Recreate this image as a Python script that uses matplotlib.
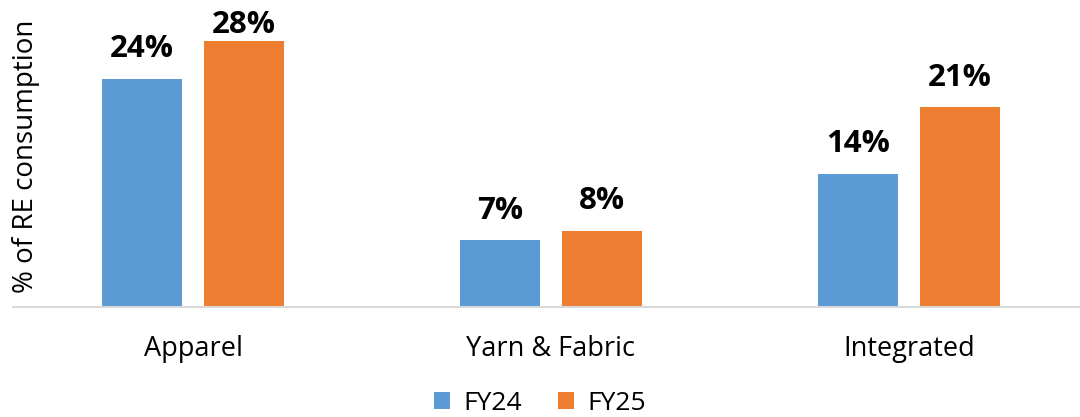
import matplotlib.pyplot as plt
import numpy as np

plt.rcParams['font.family'] = ['Open Sans', 'DejaVu Sans']

categories = ['Apparel', 'Yarn & Fabric', 'Integrated']
fy24 = [24, 7, 14]
fy25 = [28, 8, 21]
series_names = ['FY24', 'FY25']
colors = ['#5b9bd5', '#ed7d31']

fig = plt.figure(figsize=(10.8, 4.17), dpi=100)
ax = fig.add_axes([13 / 1080, 1 - 307 / 417, 1 - 13 / 1080, 307 / 417])

x = np.arange(len(categories))
w = 0.223
off = 0.142
b1 = ax.bar(x - off, fy24, w, color=colors[0], label=series_names[0], zorder=2)
b2 = ax.bar(x + off, fy25, w, color=colors[1], label=series_names[1], zorder=2)

ymax = 32.3
# labels sit above the bar, but are kept inside the plot area (like Excel does)
for bars, vals in [(b1, fy24), (b2, fy25)]:
    for r, v in zip(bars, vals):
        ypos = min(v + 2.3, ymax - 3.45)
        ax.text(r.get_x() + r.get_width() / 2, ypos, f'{v}%', ha='center', va='baseline',
                fontsize=22.5, fontweight='bold')

ax.set_xlim(-0.503, 2.478)
ax.set_ylim(0, ymax)
ax.set_xticks(x)
ax.set_xticklabels(categories, fontsize=19.5)
ax.tick_params(axis='x', length=0, pad=20)
ax.set_yticks([])
for s in ['top', 'right', 'left']:
    ax.spines[s].set_visible(False)
ax.spines['bottom'].set_color('#d9d9d9')
ax.spines['bottom'].set_linewidth(1.5)

fig.text(26 / 1080, 1 - 156 / 417, '% of RE consumption', rotation=90, ha='center', va='center',
         fontsize=20)

fig.legend(handles=[b1, b2], labels=series_names, loc='center', bbox_to_anchor=(0.5, 1 - 403 / 417),
           ncol=2, frameon=False, fontsize=19, handlelength=0.6, handleheight=0.6,
           columnspacing=1.4, handletextpad=0.5)

fig.savefig('out.png', dpi=100)
